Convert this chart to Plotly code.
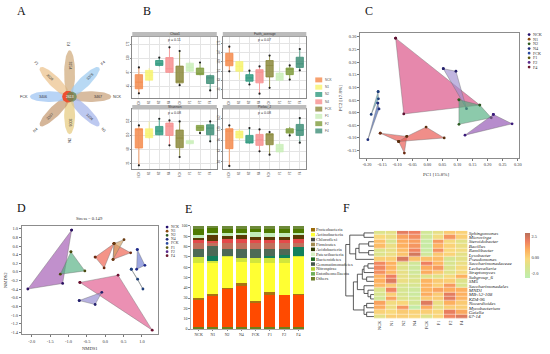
import numpy as np
import plotly.graph_objects as go

W, H = 550, 354
SERIF = "Liberation Serif"
SANS = "Liberation Sans"

GROUPS = ["NCK", "N1", "N2", "N4", "FCK", "F1", "F2", "F4"]

# ---------- Panel A: flower
petal_lengths = [42, 42, 38, 42, 40, 42, 47, 42]
petal_counts = ["3467", "3204", "3006", "3337", "3406", "3028", "3154", "3376"]
petal_colors = ["#c9a27c", "#a3b4ea", "#e6cb80", "#c59a72", "#9cc3f2", "#ebc28c", "#d0aa7c", "#9ccaf0"]
core_count = "2613"

# ---------- Panel B: boxes (q1, median, q3, low whisker, high whisker, points)
box_colors = ["#f58a4b", "#f7f36b", "#2f9a80", "#f78f8f", "#8c8a3c", "#c9eeb8", "#7f9c3c", "#3f8f78"]
box_titles = ["Chao1", "Faith_average", "Shannon", "Pielou_J"]
box_pvalues = ["p = 0.11", "p = 0.07", "p = 0.08", "p = 0.08"]
box_panel1 = [(37,57,80,23,102,[23,102]), (63,78,93,60,100,[]), (108,113,123,105,132,[132]),
              (87,98,132,85,163,[163]), (55,60,106,48,152,[48,152]), (90,102,115,88,120,[]),
              (80,82,100,78,117,[117]), (53,70,77,32,80,[32])]
box_panel2 = [(107,123,145,90,165,[90,165]), (90,105,120,65,122,[]), (60,70,80,50,92,[50,92]),
              (55,87,95,22,105,[22,105]), (73,108,123,40,138,[40,138]), (63,73,85,60,102,[]),
              (80,96,100,65,108,[65,108]), (102,113,133,93,158,[93,158])]
box_panel3 = [(72,128,130,20,140,[20,140]), (103,115,130,100,152,[]), (112,123,137,110,160,[160]),
              (110,138,147,80,155,[80,155]), (73,102,126,45,152,[45,152]), (85,90,95,82,98,[]),
              (125,133,140,117,140,[117]), (112,132,142,92,152,[92,152])]
box_panel4 = [(70,123,130,18,140,[18,140]), (102,113,123,95,130,[]), (87,90,110,85,132,[132]),
              (80,97,113,62,128,[62,128]), (82,113,115,52,120,[52,120]), (60,70,83,55,90,[]),
              (117,123,130,110,135,[110]), (110,125,143,88,162,[88,162])]

# ---------- Panel C: PCoA polygons
pcoa_colors = ["#d9487f", "#9f8fd0", "#4fae7e", "#8f4fb0", "#4a9cb0", "#3f5fb0", "#e8524a", "#e8524a"]
pcoa_marker = ["#5c1030", "#24206c", "#2c5a20", "#3a1a7a", "#1f3f7a", "#20307c", "#6a2a10", "#5a3010"]
pcoa_x = [[-0.105,-0.078,0.174], [0.053,0.095,0.13], [0.105,0.174,0.212,0.105],
          [0.219,0.281,0.125], [-0.163,-0.162,-0.186], [-0.164,-0.160,-0.197],
          [-0.156,-0.068,-0.076,-0.095], [-0.095,-0.068,-0.004,0.056]]
pcoa_y = [[0.295,-0.005,0.03], [0.174,0.164,0.016], [0.051,0.03,-0.02,-0.046],
          [-0.007,-0.044,-0.089], [0.083,0.055,-0.007], [0.038,0.015,-0.107],
          [-0.081,-0.094,-0.160,-0.114], [-0.114,-0.094,-0.057,-0.1]]

# ---------- Panel D: NMDS polygons
nmds_colors = ["#a055b0", "#4fae7e", "#ee5a48", "#ee5a48", "#d2a060", "#6a78d0", "#4a9cb0", "#e0558a", "#8f85d0"]
nmds_marker = ["#2a1060", "#4a4a10", "#6a2a10", "#6a2a10", "#6a3a10", "#1f2a8a", "#1f3f7a", "#6a1030", "#24206c"]
nmds_x = [[-0.916,-2.108,-1.16], [-0.934,-0.555,-1.223], [-0.275,0.24,-0.031], [0.24,0.692,0.213],
          [0.24,0.511,0.213], [0.873,1.08,0.855], [0.71,0.882,1.026], [-0.69,0.349,1.279], [-0.708,-0.275,-0.094]]
nmds_y = [[0.969,-0.397,-0.267], [0.466,0.023,-0.053], [0.343,0.656,0.092], [0.656,0.443,0.29],
          [0.656,0.748,0.29], [0.519,0.153,0.061], [0.061,-0.168,-0.397], [-0.244,-0.076,-1.351], [-0.664,-0.756,-0.473]]
legend_dots = ["#24106c", "#8a4a10", "#2c5a20", "#1f2a7a", "#2a4aa0", "#5a5a10", "#5a2a8a", "#6a1a30"]

# ---------- Panel E: stacked bars, bottom to top
bar_layers = [
    ("Others", "#6d7f1c", [2, 2, 2, 2, 2, 2, 2, 2]),
    ("Proteobacteria", "#ff4a00", [26, 31, 37, 40, 24, 32, 31, 31.5]),
    ("Proteobacteria", "#a87412", [2, 0.7, 0.5, 2.6, 1.4, 1.4, 0, 0.2]),
    ("Actinobacteria", "#ffff33", [34, 30.3, 30.5, 19.9, 36.6, 28.6, 31, 36.8]),
    ("Nitrospirae", "#d2e63c", [5.5, 2, 0.5, 4.5, 4.5, 5, 5, 0.5]),
    ("Entotheonellaeota", "#12805c", [0, 5, 0, 0, 0, 2, 3, 8]),
    ("Gemmatimonadetes", "#4d6a56", [8.5, 9, 7.5, 9, 9.5, 7, 6, 0]),
    ("Firmicutes", "#c0705c", [5, 4, 5, 5, 5, 5, 5, 4]),
    ("Chloroflexi", "#e44a4a", [3, 1, 4, 4, 3, 3, 3, 4]),
    ("Acidobacteria", "#5a3a05", [2.5, 6, 3, 4, 3, 3.5, 3, 4]),
    ("Patescibacteria", "#c2ecb8", [3, 2.5, 3, 2.5, 5, 3.5, 4, 2.5]),
    ("Bacteroidetes", "#4e7a00", [5, 4, 4, 3.5, 3, 4, 4, 3.5]),
    ("Others", "#6d8a3a", [3.5, 2.5, 3, 3, 3, 3, 3, 3]),
]
bar_legend = ["Proteobacteria", "Actinobacteria", "Chloroflexi", "Firmicutes", "Acidobacteria", "Patescibacteria",
              "Bacteroidetes", "Gemmatimonadetes", "Nitrospirae", "Entotheonellaeota", "Others"]
bar_legend_colors = ["#9a6a08", "#ffff33", "#4a4a48", "#a08a50", "#2f3a08", "#d6f0c4",
                     "#1f6a20", "#44544a", "#b4d030", "#6fae5a", "#6d7f2c"]

# ---------- Panel F: heatmap
genera = ["Sphingomonas", "Microvirga", "Steroidobacter", "Bacillus", "Ramlibacter", "Lysobacter", "Pseudomonas",
          "Saccharimonadaceae", "Lechevalieria", "Streptomyces", "Subgroup_6", "SM5", "Saccharimonadales", "MND1",
          "MB-A2-108", "KD4-96", "Nocardioides", "Mycobacterium", "Gaiella", "67-14"]
heat_values = [
    [-1.0, -0.8, 2.2, 2.0, -1.5, -0.7, 0.2, 0.0],
    [-0.2, -0.6, 1.2, 1.7, -1.6, -0.4, 1.5, 0.1],
    [0.5, -1.2, 1.0, 1.3, -2.0, 1.4, -0.3, -0.9],
    [0.6, -0.6, 0.9, 1.5, -2.0, 0.8, 0.0, -0.6],
    [-1.0, -0.7, 0.6, 1.9, -1.9, 1.6, -0.2, -0.4],
    [-1.0, -0.6, 0.4, 2.5, -1.6, 0.3, 0.0, -0.8],
    [0.1, 0.1, 2.4, 0.4, 0.5, 0.6, -1.3, -0.8],
    [1.8, 0.9, -0.8, -1.6, 2.0, 0.8, -1.2, -0.6],
    [1.8, 0.8, -0.9, -1.7, 1.0, 1.4, -1.0, -0.3],
    [1.6, 0.7, -0.7, -1.6, 1.0, 0.2, -0.9, -0.3],
    [0.8, 2.0, -0.7, -1.2, -0.9, -0.9, -0.3, 0.9],
    [0.9, 2.3, -0.6, -1.0, 0.8, 0.2, 0.1, -1.0],
    [0.7, 0.2, -1.1, -1.3, 0.8, 0.1, 1.4, -1.1],
    [-1.0, 1.9, -1.3, -1.7, 0.8, 1.2, 1.0, 0.9],
    [-1.2, 0.1, -1.2, -1.8, 1.0, 0.2, 2.2, 0.9],
    [-1.5, 1.2, -1.0, -1.4, 0.2, 0.2, 2.2, 0.8],
    [1.2, -0.4, -0.1, -1.4, 2.3, -0.6, 0.9, 0.2],
    [1.0, -0.5, 1.5, -2.2, 1.0, -0.7, 0.1, 0.1],
    [0.0, -0.2, 0.2, 0.0, 0.1, -0.1, 2.1, 1.1],
    [-0.8, 0.1, 0.1, -0.1, -0.9, -0.1, 1.9, 2.3],
]
heat_scale = [[0, "#bdeeb0"], [0.27, "#dce38a"], [0.42, "#f9d97c"], [0.62, "#fdb05f"], [0.82, "#ee7f60"], [1, "#b8705a"]]
# dendrogram: (height, left, right); leaves are row indices
dendro_tree = (85,
               (73, (30, 0, 1), (55, (45, (16, 2, 3), (16, 4, 5)), 6)),
               (62, (50, (35, (30, (18, 7, 8), 9), (22, 10, 11)), (30, 12, (18, 13, (10, 14, 15)))),
                (30, (22, 16, 17), (22, 18, 19))))

fig = go.Figure()
layout = dict()
shapes, annots = [], []
axis_count = [0]


def new_axes(x0, x1, y0, y1, xopts, yopts):
    """Create an axis pair from a pixel box; returns trace refs."""
    axis_count[0] += 1
    n = axis_count[0]
    sx = "" if n == 1 else str(n)
    layout["xaxis" + sx] = dict(domain=[x0 / W, x1 / W], anchor="y" + sx, **xopts)
    layout["yaxis" + sx] = dict(domain=[1 - y1 / H, 1 - y0 / H], anchor="x" + sx, **yopts)
    return "x" + sx, "y" + sx


def text(px, py, s, size=5, family=SERIF, color="#222", angle=0, anchor="center"):
    annots.append(dict(x=px / W, y=1 - py / H, xref="paper", yref="paper", text=s, showarrow=False,
                       font=dict(size=size, family=family, color=color), textangle=angle, xanchor=anchor,
                       yanchor="middle", borderpad=0, borderwidth=0))


def rect(x0, y0, x1, y1, fill, line=None):
    shapes.append(dict(type="rect", xref="paper", yref="paper", x0=x0 / W, x1=x1 / W, y0=1 - y0 / H, y1=1 - y1 / H,
                       fillcolor=fill, line=dict(width=0.5 if line else 0, color=line or fill), layer="above"))


def dot(px, py, color, r=1.4):
    shapes.append(dict(type="circle", xref="paper", yref="paper", x0=(px - r) / W, x1=(px + r) / W,
                       y0=1 - (py + r) / H, y1=1 - (py - r) / H, fillcolor=color, line=dict(width=0), layer="above"))


def hexa(c, a):
    c = c.lstrip("#")
    return f"rgba({int(c[:2],16)},{int(c[2:4],16)},{int(c[4:],16)},{a})"


HIDDEN = dict(visible=False, showgrid=False, zeroline=False)

# panel letters
for s, px, py in [("A", 22, 8), ("B", 148, 8), ("C", 371, 8), ("D", 22, 208), ("E", 190, 209), ("F", 348, 208)]:
    text(px, py, s, size=12, color="#111")

# ---------- A
xa, ya = new_axes(0, 140, 30, 160, dict(HIDDEN, range=[0, 140]), dict(HIDDEN, range=[160, 30]))
cx, cy = 70, 95
t = np.linspace(0, 2 * np.pi, 60)
for i, g in enumerate(GROUPS):
    ang = np.deg2rad(i * 45)
    L = petal_lengths[i]
    u = L / 2 * (1 + np.cos(t))
    v = 5.5 * np.sin(t)
    fig.add_trace(go.Scatter(x=cx + u * np.cos(ang) - v * np.sin(ang), y=cy + u * np.sin(ang) + v * np.cos(ang),
                             mode="lines", fill="toself", fillcolor=hexa(petal_colors[i], 0.72),
                             line=dict(width=0), xaxis=xa, yaxis=ya, hoverinfo="skip", showlegend=False))
    ta = (i * 45) % 180
    if ta > 90:
        ta -= 180
    text(cx + 0.68 * L * np.cos(ang), 95 + 0.68 * L * np.sin(ang), petal_counts[i], size=3.6, family=SANS, angle=ta, color="#333")
    text(cx + (L + 6) * np.cos(ang), 95 + (L + 6) * np.sin(ang), g, size=3.8, family=SANS,
         angle=-90 if i in (2, 6) else (45 if i in (1, 5) else (-45 if i in (3, 7) else 0)), color="#333")
fig.add_trace(go.Scatter(x=cx - 1.5 + 6 * np.cos(t), y=cy + 6 * np.sin(t), mode="lines", fill="toself",
                         fillcolor="#ee5030", line=dict(width=0), xaxis=xa, yaxis=ya, hoverinfo="skip", showlegend=False))
fig.add_trace(go.Scatter(x=cx + 2 + 5.2 * np.cos(t), y=cy + 5.2 * np.sin(t), mode="lines", fill="toself",
                         fillcolor="rgba(105,135,85,0.8)", line=dict(width=0), xaxis=xa, yaxis=ya, hoverinfo="skip", showlegend=False))
text(cx, 95, core_count, size=3.4, family=SANS, color="#fff")

# ---------- B
box_boxes = [(133, 218, 34, 96, [10, 196]), (224, 308, 34, 96, [10, 196]),
             (133, 218, 108, 168, [10, 188]), (224, 308, 108, 168, [10, 188])]
box_data = [box_panel1, box_panel2, box_panel3, box_panel4]
box_ticks = [[45, 87, 130, 172], [35, 63, 91, 119, 147, 175], [25, 68, 110, 152], [30, 63, 96, 129, 162]]
for k, (x0, x1, y0, y1, yr) in enumerate(box_boxes):
    xa, ya = new_axes(x0, x1, y0, y1,
                      dict(type="category", categoryorder="array", categoryarray=GROUPS, range=[-0.65, 7.65],
                           tickfont=dict(size=2.8, family=SANS, color="#444"), tickangle=-90, showgrid=True, gridcolor="#e4e4e4",
                           gridwidth=0.5, showline=True, mirror=True, linecolor="#8a8a8a", linewidth=0.7, ticks="outside",
                           ticklen=1, tickwidth=0.4, tickcolor="#888", zeroline=False),
                      dict(range=yr, tickmode="array", tickvals=box_ticks[k],
                           ticktext=[str(v) for v in box_ticks[k]], tickfont=dict(size=2.8, family=SANS, color="#444"),
                           tickangle=-90, showgrid=True, gridcolor="#e4e4e4", gridwidth=0.5, showline=True, mirror=True,
                           linecolor="#8a8a8a", linewidth=0.7, ticks="outside", ticklen=1, tickwidth=0.4, tickcolor="#888", zeroline=False))
    for i, g in enumerate(GROUPS):
        q1, m, q3, lo, hi, pts = box_data[k][i]
        col = box_colors[i]
        fig.add_trace(go.Box(x=[g], q1=[q1], median=[m], q3=[q3], lowerfence=[lo], upperfence=[hi], width=0.72,
                             whiskerwidth=0, fillcolor=hexa(col, 0.85),
                             line=dict(color=hexa(col, 1) if i not in (1, 5) else hexa(col, 0.7), width=0.8),
                             boxpoints=False, xaxis=xa, yaxis=ya, showlegend=False, hoverinfo="skip"))
        if pts:
            fig.add_trace(go.Scatter(x=[g] * len(pts), y=pts, mode="markers", marker=dict(size=2.2, color="#222"),
                                     xaxis=xa, yaxis=ya, showlegend=False, hoverinfo="skip"))
    rect(x0, y0 - 4.5, x1, y0, "#bcbcbc")
    text((x0 + x1) / 2, y0 - 2.2, box_titles[k], size=3.4, family=SANS, color="#333")
    text((x0 + x1) / 2, y0 + 4, box_pvalues[k], size=3.6, family=SANS, color="#333")
for i, g in enumerate(GROUPS):
    yy = 78 + i * 7.4
    rect(317, yy - 2.5, 324, yy + 2.5, hexa(box_colors[i], 0.8))
    text(327, yy, g, size=3.2, family=SANS, color="#555", anchor="left")


# ---------- C / D shared axis style
def sc_axis(rng, ticks, labels):
    return dict(range=rng, tickmode="array", tickvals=ticks, ticktext=labels, tickfont=dict(size=4.4, family=SERIF, color="#333"),
                showgrid=False, zeroline=False, showline=True, mirror=True, linecolor="#8c8c8c", linewidth=1,
                ticks="outside", ticklen=2, tickwidth=0.6, tickcolor="#777")


def polygons(xs, ys, fills, marks, xa, ya, alpha):
    for i in range(len(xs)):
        fig.add_trace(go.Scatter(x=xs[i] + xs[i][:1], y=ys[i] + ys[i][:1], mode="lines+markers", fill="toself",
                                 fillcolor=hexa(fills[i], alpha), line=dict(color="rgba(110,110,110,0.6)", width=0.7),
                                 marker=dict(size=2.8, color=marks[i]), xaxis=xa, yaxis=ya, showlegend=False, hoverinfo="skip"))


cx_t = [round(-0.2 + 0.05 * i, 2) for i in range(11)]
cy_t = [round(-0.15 + 0.05 * i, 2) for i in range(10)]
xa, ya = new_axes(362.3, 522.3, 30, 157,
                  sc_axis([-0.222, 0.3055], cx_t, [f"{v:.2f}" for v in cx_t]),
                  sc_axis([-0.1785, 0.317], cy_t, [f"{v:.2f}" for v in cy_t]))
polygons(pcoa_x, pcoa_y, pcoa_colors, pcoa_marker, xa, ya, 0.65)
text(438, 174, "PC1 [15.8%]", size=5, color="#333")
text(342.5, 97, "PC2 [17.8%]", size=5, color="#333", angle=-90)
for i, g in enumerate(GROUPS):
    yy = 32 + i * 4.72
    dot(532, yy, legend_dots[i])
    text(536, yy, g, size=4.2, color="#333", anchor="left")

dx_t = [round(-2 + 0.5 * i, 1) for i in range(7)]
dy_t = [round(-1.4 + 0.2 * i, 1) for i in range(13)]
xa, ya = new_axes(22, 159, 225.7, 336,
                  sc_axis([-2.27, 1.44], dx_t, [f"{v:.1f}" for v in dx_t]),
                  sc_axis([-1.446, 1.076], dy_t, [f"{v:.1f}" for v in dy_t]))
polygons(nmds_x, nmds_y, nmds_colors, nmds_marker, xa, ya, 0.65)
text(90, 219, "Stress = 0.149", size=4.6, color="#333")
text(90, 350, "NMDS1", size=4.6, color="#333")
text(5, 281, "NMDS2", size=4.6, color="#333", angle=-90)
for i, g in enumerate(GROUPS):
    yy = 227.3 + i * 4.15
    dot(168, yy, legend_dots[i])
    text(172, yy, g, size=3.8, color="#333", anchor="left")

# ---------- E
xa, ya = new_axes(191.7, 306, 226, 330.7,
                  dict(type="category", categoryorder="array", categoryarray=GROUPS, range=[-0.56, 7.42],
                       tickfont=dict(size=4, family=SERIF, color="#333"), showline=True, linecolor="#aaa", linewidth=0.7,
                       ticks="outside", ticklen=1.5, tickwidth=0.4, tickcolor="#888", showgrid=False, zeroline=False, tickangle=0),
                  dict(range=[0, 100], tickmode="array", tickvals=list(range(0, 101, 10)),
                       tickfont=dict(size=4, family=SERIF, color="#333"), showline=True, linecolor="#aaa", linewidth=0.7,
                       ticks="outside", ticklen=1.5, tickwidth=0.4, tickcolor="#888", showgrid=False, zeroline=False))
for name, color, vals in bar_layers:
    fig.add_trace(go.Bar(x=GROUPS, y=vals, name=name, marker=dict(color=color, line=dict(width=0)), width=0.76,
                         xaxis=xa, yaxis=ya, showlegend=False, hoverinfo="skip"))
for i, s in enumerate(bar_legend):
    yy = 230 + i * 4.97
    rect(312.7, yy - 1.8, 316.7, yy + 1.8, bar_legend_colors[i])
    text(318, yy, s, size=4.6, color="#333", anchor="left")

# ---------- F
xa, ya = new_axes(376, 470.3, 231, 320.3,
                  dict(type="category", categoryorder="array", categoryarray=GROUPS, tickangle=-90,
                       tickfont=dict(size=4.4, family=SERIF, color="#333"), showline=False, ticks="", showgrid=False, zeroline=False,
                       range=[-0.5, 7.5]),
                  dict(side="right", tickmode="array", tickvals=list(range(20)),
                       ticktext=[f"<i>{g}</i>" for g in genera], tickfont=dict(size=5, family=SERIF, color="#222"),
                       range=[19.5, -0.5], showline=False, ticks="", showgrid=False, zeroline=False))
fig.add_trace(go.Heatmap(z=heat_values, x=GROUPS, y=list(range(20)), zmin=-2.5, zmax=3.0, colorscale=heat_scale, xgap=0.5, ygap=0.5,
                         xaxis=xa, yaxis=ya, hoverinfo="skip",
                         colorbar=dict(x=528 / W, xanchor="left", y=1 - 233 / H, yanchor="top", thickness=5, thicknessmode="pixels",
                                       len=45, lenmode="pixels", xpad=0, ypad=0, outlinewidth=0, tickmode="array",
                                       tickvals=[2.5, 0, -2], ticktext=["2.5", "0.00", "-2.0"], ticks="", ticklen=0,
                                       tickfont=dict(size=4.4, family=SERIF, color="#333"))))

xa, ya = new_axes(346, 376, 231, 320.3, dict(HIDDEN, range=[90, 0]), dict(HIDDEN, range=[19.5, -0.5]))
dx, dy = [], []


def walk(node):
    """Returns leaf position and height of a dendrogram node, collecting its elbow lines."""
    if not isinstance(node, tuple):
        return node, 0
    h, a, b = node
    ya_, ha = walk(a)
    yb_, hb = walk(b)
    dx.extend([ha, h, h, hb, None])
    dy.extend([ya_, ya_, yb_, yb_, None])
    return (ya_ + yb_) / 2, h


walk(dendro_tree)
fig.add_trace(go.Scatter(x=dx, y=dy, mode="lines", line=dict(color="#333", width=0.8), xaxis=xa, yaxis=ya,
                         showlegend=False, hoverinfo="skip"))

fig.update_layout(width=W, height=H, margin=dict(l=0, r=0, t=0, b=0), barmode="stack", paper_bgcolor="white",
                  plot_bgcolor="white", showlegend=False, shapes=shapes, annotations=annots, **layout)
fig.write_html("out.html", config={"displayModeBar": False},
               post_script="document.body.style.margin='0';document.body.style.overflow='hidden';")
